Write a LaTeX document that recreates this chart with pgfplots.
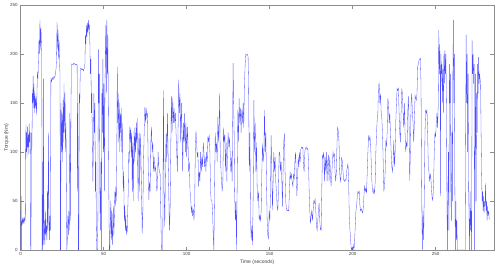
\documentclass[border=0pt]{standalone}
\usepackage{fontspec}
\setmainfont{Liberation Sans}
\usepackage{pgfplots}
\pgfplotsset{compat=1.18}
\begin{document}
\begin{tikzpicture}
\path[use as bounding box] (-20.7bp,-18bp) rectangle (478.3bp,250bp);
\begin{axis}[
  scale only axis,
  width=473bp, height=244.7bp,
  at={(0,0)}, anchor=south west,
  xmin=0, xmax=285, ymin=0, ymax=250,
  xtick={0,50,100,150,200,250},
  ytick={0,50,100,150,200,250},
  tick align=inside,
  major tick length=3.5bp,
  axis line style={draw=black!45},
  tick style={draw=black!45, line width=0.4pt},
  tick label style={font=\fontsize{4.5}{5}\selectfont, text=black!75},
  /pgf/number format/assume math mode=true,
  label style={font=\fontsize{5}{6}\selectfont, text=black!75},
  xlabel={Time (seconds)},
  ylabel={Torque (Nm)},
  xlabel style={at={(axis description cs:0.5,0)}, anchor=center, yshift=-12bp},
  ylabel style={at={(axis description cs:-0.030,0.46)}, anchor=center},
  xticklabel style={yshift=1bp},
  yticklabel style={xshift=0.5bp},
  clip=true,
]
\addplot[color=blue!70, line width=0.3pt] coordinates {
(0,0) (0.1,40) (0.2,5) (0.3,55) (0.4,0) (0.5,30) (0.8,25) (1.1,33) (1.4,27) (1.7,32) (2.0,28) (2.3,33) (2.6,30) (2.8,35) (3.0,110) (3.2,128) (3.4,100) (3.6,120) (3.8,95) (4.0,126) (4.3,105) (4.6,118) (4.9,98) (5.1,129) (5.4,110) (5.7,120) (5.9,90) (6.0,0) (6.2,0) (6.4,100) (6.6,120) (6.8,105) (7.0,160) (7.2,150) (7.5,178) (7.7,145) (8.0,170) (8.3,140) (8.6,160) (8.9,145) (9.2,155) (9.5,138) (9.8,160) (10.1,182) (10.4,175) (10.7,195) (11.0,215) (11.3,200) (11.6,235) (11.9,205) (12.2,228) (12.5,210) (12.7,200) (12.9,0) (13.1,0) (13.3,90) (13.5,5) (13.8,175) (14.0,10) (14.3,30) (14.6,5) (14.9,40) (15.2,15) (15.5,25) (15.8,10) (16.1,60) (16.4,20) (16.7,120) (17.0,40) (17.3,10) (17.6,35) (17.9,20) (18.2,175) (18.6,172) (19.0,176) (19.5,174) (20.0,177) (20.5,176) (20.9,180) (21.3,185) (21.6,195) (21.9,233) (22.2,205) (22.5,225) (22.8,195) (23.1,215) (23.4,190) (23.7,180) (23.9,0) (24.1,0) (24.3,150) (24.6,100) (24.9,140) (25.2,90) (25.5,153) (25.8,110) (26.1,170) (26.4,120) (26.7,160) (27.0,100) (27.3,130) (27.6,40) (27.8,0) (28.1,10) (28.4,35) (28.7,15) (29.0,40) (29.3,20) (29.6,140) (29.9,30) (30.2,120) (30.5,190) (31.0,190) (31.5,189) (32.0,191) (32.5,190) (33.0,189) (33.5,190) (34.0,189) (34.2,60) (34.5,150) (34.7,0) (35.0,0) (35.3,160) (35.6,150) (35.9,185)
(36.3,186) (36.8,184) (37.3,185) (37.8,183) (38.3,186) (38.7,190) (39.0,220) (39.3,210) (39.6,230) (39.9,218) (40.2,232) (40.5,222) (40.8,235) (41.1,225) (41.4,230) (41.7,210) (42.0,180) (42.3,195) (42.6,140) (42.9,160) (43.2,100) (43.5,70) (43.8,110) (44.1,160) (44.4,120) (44.7,150) (45.0,60) (45.3,90) (45.6,20) (45.9,0) (46.2,0) (46.5,30) (46.8,205) (47.1,150) (47.4,180) (47.7,60) (48.0,20) (48.3,90) (48.6,0) (48.9,160) (49.2,120) (49.5,195) (49.8,100) (50.1,170) (50.4,60) (50.7,150) (51.0,200) (51.3,230) (51.6,160) (51.9,235) (52.2,180) (52.5,220) (52.8,150) (53.1,60) (53.4,0) (53.7,0) (54.0,30) (54.3,50) (54.6,10) (54.9,40) (55.2,5) (55.5,20) (55.8,45) (56.1,15) (56.4,30) (56.7,60) (57.0,45) (57.3,65) (57.6,50) (57.9,100) (58.2,187) (58.5,130) (58.8,160) (59.1,110) (59.4,150) (59.7,100) (60.0,140) (60.3,120) (60.6,145) (60.9,100) (61.2,130) (61.5,90) (61.8,60) (62.1,80) (62.4,30) (62.7,45) (63.0,20) (63.3,35) (63.6,15) (63.9,25) (64.2,18) (64.5,40) (64.8,60) (65.1,100) (65.4,90) (65.7,126) (66.0,110) (66.3,125) (66.6,95) (66.9,120) (67.2,60) (67.5,110) (67.8,50) (68.1,100) (68.4,125) (68.7,90) (69.0,120) (69.3,100) (69.6,130) (69.9,110) (70.2,135) (70.5,80) (70.8,50) (71.1,110) (71.4,120) (71.7,60)
(72.0,119) (72.4,100) (72.8,60) (73.2,17) (73.6,40) (74.0,90) (74.4,120) (74.8,146) (75.2,130) (75.6,145) (76.0,135) (76.4,140) (76.8,90) (77.2,51) (77.6,70) (78.0,60) (78.4,110) (78.8,126) (79.2,100) (79.6,110) (80.0,80) (80.4,95) (80.8,80) (81.2,85) (81.6,78) (82.0,60) (82.4,65) (82.8,100) (83.2,85) (83.6,80) (84.0,78) (84.4,40) (84.8,0) (85.2,0) (85.6,0) (86.0,163) (86.4,60) (86.8,24) (87.2,80) (87.6,119) (88.0,90) (88.4,140) (88.8,100) (89.2,60) (89.6,20) (90.0,40) (90.4,100) (90.8,157) (91.2,120) (91.6,155) (92.0,130) (92.4,145) (92.8,130) (93.2,140) (93.6,120) (94.0,100) (94.4,80) (94.8,120) (95.2,174) (95.6,140) (96.0,160) (96.4,110) (96.8,150) (97.2,120) (97.6,80) (98.0,130) (98.4,110) (98.8,140) (99.2,100) (99.6,130) (100.0,95) (100.4,126) (100.8,110) (101.2,80) (101.6,90) (102.0,60) (102.4,55) (102.8,38) (103.2,45) (103.6,35) (104.0,42) (104.4,30) (104.8,45) (105.2,100) (105.6,122) (106.0,110) (106.4,95) (106.8,100) (107.2,65) (107.6,80)
(108.0,70) (108.4,100) (108.8,80) (109.2,95) (109.6,85) (110.0,110) (110.4,100) (110.8,85) (111.2,95) (111.6,80) (112.0,100) (112.4,90) (112.8,116) (113.2,110) (113.6,118) (114.0,100) (114.4,60) (114.8,50) (115.2,50) (115.6,40) (116.0,15) (116.4,0) (116.8,60) (117.2,120) (117.6,100) (118.0,110) (118.4,90) (118.8,136) (119.2,110) (119.6,130) (119.9,160) (120.2,100) (120.6,85) (121.0,70) (121.4,60) (121.8,70) (122.2,125) (122.6,110) (123.0,118) (123.4,80) (123.8,110) (124.2,70) (124.6,100) (125.0,120) (125.4,105) (125.8,115) (126.2,100) (126.6,80) (127.0,95) (127.4,70) (127.8,150) (128.0,191) (128.3,150) (128.6,120) (128.9,60) (129.3,30) (129.7,50) (130.0,0) (130.4,60) (130.8,143) (131.2,110) (131.6,155) (132.0,130) (132.4,145) (132.8,120) (133.2,143) (133.6,130) (134.0,150) (134.4,125) (134.8,170) (135.2,187) (135.6,200) (136.0,199) (136.5,200) (137.0,198) (137.3,170) (137.7,80) (138.1,120) (138.5,30) (138.9,10) (139.3,25) (139.7,5) (140.1,60) (140.5,153) (140.9,100) (141.3,130) (141.7,80) (142.1,110) (142.5,60) (142.9,50)
(143.3,60) (143.7,30) (144.1,35) (144.5,30) (144.9,40) (145.3,80) (145.7,109) (146.1,90) (146.5,100) (146.9,143) (147.3,100) (147.7,120) (148.1,70) (148.5,30) (148.9,15) (149.3,11) (149.7,40) (150.1,30) (150.5,60) (150.9,117) (151.3,80) (151.7,41) (152.1,70) (152.5,100) (152.9,80) (153.3,95) (153.7,70) (154.1,60) (154.5,45) (154.9,40) (155.3,60) (155.7,99) (156.1,100) (156.5,80) (156.9,90) (157.3,75) (157.7,44) (158.1,80) (158.5,110) (158.9,119) (159.3,80) (159.7,50) (160.1,42) (160.5,40) (161.0,41) (161.5,40) (161.9,60) (162.3,80) (162.7,72) (163.1,78) (163.5,70) (164.0,65) (164.4,78) (164.8,72) (165.2,90) (165.6,100) (166.0,80) (166.4,55) (166.8,70) (167.2,95) (167.6,85) (168.0,100) (168.4,90) (168.8,103) (169.2,105) (169.6,104) (170.0,105) (170.4,85) (170.8,80) (171.2,100) (171.6,104) (172.0,105) (172.5,103) (173.0,104) (173.4,90) (173.8,60) (174.2,40) (174.6,27) (175.0,35) (175.4,40) (175.8,30) (176.2,40) (176.6,50) (177.0,48) (177.4,52) (177.8,40) (178.2,25) (178.6,20) (179.0,30) (179.4,40) (179.8,48)
(180.2,30) (180.6,21) (181.0,20) (181.4,60) (181.8,97) (182.2,95) (182.6,100) (183.0,70) (183.4,95) (183.8,80) (184.2,100) (184.6,70) (185.0,90) (185.4,97) (185.8,70) (186.2,95) (186.6,80) (187.0,65) (187.4,75) (187.8,90) (188.2,100) (188.6,95) (189.0,98) (189.4,80) (189.8,70) (190.2,80) (190.6,110) (191.0,126) (191.4,120) (191.8,110) (192.2,80) (192.6,70) (193.0,75) (193.4,95) (193.8,90) (194.2,80) (194.6,72) (195.0,70) (195.5,72) (196.0,71) (196.4,80) (196.8,85) (197.2,88) (197.6,70) (198.0,34) (198.4,20) (198.8,10) (199.2,0) (199.6,2) (200.0,0) (200.4,5) (200.8,0) (201.2,10) (201.6,25) (202.0,40) (202.4,45) (202.8,55) (203.2,60) (203.6,58) (204.0,60) (204.4,45) (204.8,40) (205.2,42) (205.6,40) (206.0,38) (206.4,42) (206.8,55) (207.2,65) (207.6,60) (208.0,63) (208.4,58) (208.8,80) (209.2,100) (209.6,116) (210.0,112) (210.4,116) (210.8,110) (211.2,90) (211.6,70) (212.0,60) (212.4,58) (212.8,62) (213.2,58) (213.6,70) (214.0,100) (214.4,120) (214.8,133) (215.2,140) (215.6,168) (216.0,170)
(216.4,150) (216.8,160) (217.2,140) (217.6,135) (218.0,120) (218.4,90) (218.8,60) (219.2,65) (219.6,80) (220.0,112) (220.4,105) (220.8,120) (221.2,155) (221.6,150) (222.0,130) (222.4,140) (222.8,120) (223.2,100) (223.6,85) (224.0,80) (224.4,90) (224.8,112) (225.2,85) (225.6,100) (226.0,130) (226.4,150) (226.8,165) (227.2,163) (227.6,165) (228.0,140) (228.4,120) (228.8,110) (229.2,140) (229.6,165) (230.0,160) (230.4,140) (230.8,125) (231.2,150) (231.6,120) (232.0,100) (232.4,110) (232.8,105) (233.2,140) (233.6,157) (234.0,130) (234.4,71) (234.8,100) (235.2,150) (235.6,160) (236.0,140) (236.4,130) (236.8,110) (237.2,130) (237.6,158) (238.0,155) (238.4,153) (238.8,160) (239.2,188) (239.6,190) (240.0,194) (240.4,195) (240.8,196) (241.2,170) (241.6,60) (242.0,0) (242.4,40) (242.8,10) (243.2,60) (243.6,120) (244.0,143) (244.4,140) (244.8,143) (245.2,120) (245.6,85) (246.0,80) (246.4,70) (246.8,78) (247.2,72) (247.6,60) (248.0,51) (248.4,54) (248.8,70) (249.2,100) (249.6,120) (250.0,115) (250.4,130) (250.8,140) (251.2,125) (251.6,150)
(251.9,225) (252.2,180) (252.5,210) (252.8,170) (253.0,55) (253.2,200) (253.5,180) (253.8,190) (254.1,150) (254.4,185) (254.7,140) (255.0,200) (255.3,170) (255.6,204) (255.9,180) (256.2,200) (256.5,150) (256.8,60) (257.1,0) (257.4,50) (257.7,100) (258.0,20) (258.3,190) (258.6,150) (258.9,180) (259.2,60) (259.5,30) (259.8,120) (260.1,50) (260.4,180) (260.7,235) (261.0,150) (261.3,200) (261.6,60) (261.9,0) (262.2,50) (262.5,10) (262.8,30) (263.1,0) (264,0) (265,0) (266,0) (267,0) (267.8,0) (268.1,120) (268.4,220) (268.7,150) (269.0,200) (269.3,100) (269.6,180) (269.9,60) (270.2,30) (270.5,0) (270.8,60) (271.1,20) (271.4,40) (271.7,0) (272.0,214) (272.3,180) (272.6,200) (272.9,170) (273.2,190) (273.5,0) (273.8,100) (274.1,180) (274.4,50) (274.7,160) (275.0,120) (275.3,190) (275.6,160) (275.9,197) (276.2,170) (276.5,180) (276.8,175) (277.1,170) (277.4,120) (277.7,80) (278.0,50) (278.3,60) (278.6,40) (278.9,55) (279.2,38) (279.5,50) (279.8,45) (280.1,68) (280.4,40) (280.7,50) (281.0,30) (281.3,45) (281.6,35) (282.0,40) (282.3,31)
};
\end{axis}
\end{tikzpicture}
\end{document}
